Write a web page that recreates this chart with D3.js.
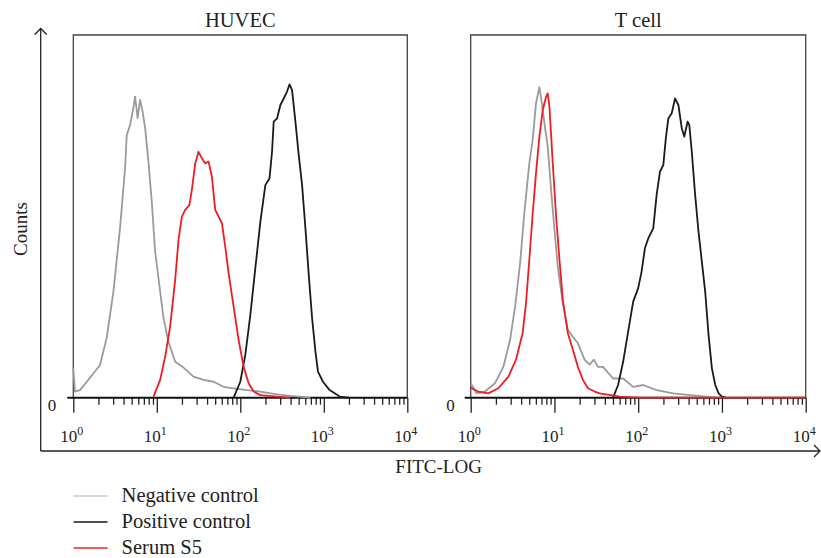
<!DOCTYPE html>
<html>
<head>
<meta charset="utf-8">
<script src="https://cdn.jsdelivr.net/npm/d3@7/dist/d3.min.js"></script>
<style>
  body { margin: 0; background: #fff; }
  svg text { font-family: "Liberation Serif", "DejaVu Serif", serif; fill: #222; }
</style>
</head>
<body>
<div id="chart"></div>
<script>
// [log10 FITC, counts] (counts in % of panel height)
const huvecNeg = [[0, 8.2], [0.02, 1.7], [0.08, 2.1], [0.2, 5.5], [0.32, 9.0], [0.4, 16.5], [0.48, 29.2],
  [0.56, 46.8], [0.62, 63.3], [0.64, 72.4], [0.68, 75.2], [0.72, 80.0], [0.74, 83.0], [0.77, 77.1],
  [0.8, 82.1], [0.83, 78.9], [0.86, 74.4], [0.9, 65.1], [0.94, 54.0], [0.98, 40.3], [1.02, 33.0],
  [1.08, 22.0], [1.14, 15.4], [1.22, 9.9], [1.32, 8.3], [1.44, 5.8], [1.56, 4.9], [1.68, 4.4],
  [1.8, 3.0], [1.92, 2.6], [2.08, 2.1], [2.24, 1.7], [2.42, 1.0], [2.6, 0.5], [2.84, 0]];
const huvecPos = [[1.92, 0], [2.0, 4.4], [2.06, 11.8], [2.12, 22.8], [2.18, 35.7], [2.24, 48.5], [2.3, 58.6],
  [2.35, 60.5], [2.38, 67.8], [2.4, 76.1], [2.44, 77.0], [2.48, 80.7], [2.52, 82.5], [2.56, 84.4],
  [2.59, 86.4], [2.62, 84.8], [2.66, 76.1], [2.7, 66.9], [2.74, 58.6], [2.78, 46.7], [2.82, 33.8],
  [2.86, 21.9], [2.9, 12.7], [2.93, 7.2], [2.99, 4.4], [3.07, 2.1], [3.19, 0.3], [3.3, 0]];
const huvecSerum = [[0.96, 0.3], [1.04, 4.9], [1.1, 11.3], [1.16, 19.6], [1.22, 32.5], [1.26, 43.5],
  [1.3, 49.9], [1.34, 51.8], [1.39, 53.1], [1.42, 57.3], [1.46, 64.6], [1.5, 67.8], [1.54, 66.0],
  [1.58, 64.6], [1.62, 65.1], [1.66, 60.9], [1.7, 51.8], [1.74, 49.9], [1.78, 48.1], [1.82, 41.6],
  [1.86, 34.3], [1.92, 25.1], [1.98, 15.9], [2.04, 8.5], [2.1, 4.0], [2.16, 1.7], [2.24, 0.7],
  [2.48, 0.2], [2.6, 0]];

const tcellNeg = [[0, 4.0], [0.07, 1.2], [0.17, 1.7], [0.29, 4.0], [0.39, 8.5], [0.47, 15.9], [0.53, 25.1],
  [0.59, 37.1], [0.64, 50.8], [0.7, 64.6], [0.74, 71.1], [0.78, 81.2], [0.82, 85.6], [0.85, 81.2],
  [0.88, 75.7], [0.92, 69.2], [0.96, 57.3], [1.0, 46.3], [1.04, 36.1], [1.1, 26.0], [1.16, 18.7],
  [1.22, 16.8], [1.28, 15.0], [1.36, 10.5], [1.42, 9.1], [1.47, 10.5], [1.52, 8.5], [1.58, 8.5],
  [1.7, 5.3], [1.82, 5.3], [1.94, 3.0], [2.06, 3.5], [2.22, 2.1], [2.42, 1.2], [2.62, 0.7],
  [2.82, 0.3], [2.92, 0]];
const tcellPos = [[1.7, 0], [1.76, 3.5], [1.82, 9.9], [1.88, 18.2], [1.94, 26.5], [2.0, 30.2], [2.04, 34.7],
  [2.08, 41.2], [2.12, 43.9], [2.18, 46.7], [2.22, 55.9], [2.26, 62.3], [2.3, 64.2], [2.33, 71.5],
  [2.36, 77.0], [2.4, 78.4], [2.44, 82.5], [2.48, 80.7], [2.52, 74.3], [2.55, 72.0], [2.59, 76.1],
  [2.61, 75.2], [2.64, 67.8], [2.68, 55.9], [2.72, 45.8], [2.76, 37.5], [2.8, 29.2], [2.84, 17.3],
  [2.88, 8.1], [2.92, 3.5], [2.96, 1.2], [3.0, 0.3], [3.04, 0]];
const tcellSerum = [[0, 2.7], [0.09, 1.7], [0.21, 1.2], [0.33, 2.6], [0.45, 5.8], [0.54, 10.4], [0.62, 17.8],
  [0.66, 26.0], [0.7, 38.0], [0.74, 50.8], [0.78, 61.9], [0.82, 72.0], [0.86, 79.3], [0.9, 83.0],
  [0.92, 83.9], [0.94, 80.2], [0.98, 64.6], [1.02, 49.9], [1.06, 38.0], [1.1, 26.9], [1.16, 17.8],
  [1.22, 13.2], [1.28, 8.5], [1.34, 4.9], [1.4, 2.6], [1.48, 1.7], [1.54, 1.2], [1.78, 0.3],
  [2.02, 0], [4, 0]];

const panelTitles = ["HUVEC", "T cell"];
const decades = [0, 1, 2, 3, 4];
const legendLabels = ["Negative control", "Positive control", "Serum S5"];
const legendColors = ["#c8c8c8", "#1a1a1a", "#e8262b"];
const seriesColors = ["#9a9a9a", "#1a1a1a", "#ee1c25"];

const W = 821, H = 558;
const y0 = 397.7, yTop = 35;

const svg = d3.select("#chart").append("svg")
    .attr("width", W)
    .attr("height", H);

const y = d3.scaleLinear().domain([0, 100]).range([y0, yTop]);

const panels = [
  { title: panelTitles[0], left: 73.3, right: 407.3, zeroX: 52, series: [huvecNeg, huvecPos, huvecSerum] },
  { title: panelTitles[1], left: 470.7, right: 805.7, zeroX: 450.5, series: [tcellNeg, tcellPos, tcellSerum] }
];

panels.forEach(p => {
    const x = d3.scaleLog().domain([1, 1e4]).range([p.left, p.right]);
    const g = svg.append("g");

    // frame (top and sides)
    g.append("path")
        .attr("d", `M${p.left},${y0} V${yTop} H${p.right} V${y0}`)
        .attr("fill", "none")
        .attr("stroke", "#444")
        .attr("stroke-width", 1.3);

    // minor + major ticks
    const minor = [];
    for (let d = 0; d < 4; d++) for (let k = 2; k <= 9; k++) minor.push(k * Math.pow(10, d));
    const axis = g.append("g").attr("transform", `translate(0,${y0})`);
    axis.call(d3.axisBottom(x).tickValues(minor).tickSize(7).tickFormat(""));
    axis.append("g").call(d3.axisBottom(x).tickValues(decades.map(d => Math.pow(10, d))).tickSize(15).tickFormat(""));
    axis.selectAll(".domain").remove();
    axis.selectAll("line").attr("stroke", "#222").attr("stroke-width", 1.3);

    // zero baseline
    g.append("line")
        .attr("x1", p.left - 6).attr("x2", p.right)
        .attr("y1", y0).attr("y2", y0)
        .attr("stroke", "#111").attr("stroke-width", 2);

    g.append("text")
        .attr("x", p.zeroX).attr("y", 410.7)
        .attr("text-anchor", "middle")
        .attr("font-size", 17)
        .text("0");

    // decade labels 10^n
    decades.forEach(d => {
        const t = g.append("text")
            .attr("x", x(Math.pow(10, d)) - 1.5)
            .attr("y", 442)
            .attr("text-anchor", "middle")
            .attr("font-size", 17);
        t.append("tspan").text("10");
        t.append("tspan").attr("font-size", 12).attr("dy", -7).text(d);
    });

    g.append("text")
        .attr("x", (p.left + p.right) / 2)
        .attr("y", 27.3)
        .attr("text-anchor", "middle")
        .attr("font-size", 20.5)
        .text(p.title);

    const line = d3.line()
        .x(d => x(Math.pow(10, d[0])))
        .y(d => y(d[1]));

    [0, 1, 2].forEach(i => {
        g.append("path")
            .datum(p.series[i])
            .attr("d", line)
            .attr("fill", "none")
            .attr("stroke", seriesColors[i])
            .attr("stroke-width", 1.8)
            .attr("stroke-linejoin", "round");
    });
});

// outer axes with open arrows
const ax = svg.append("g").attr("stroke", "#222").attr("fill", "none").attr("stroke-width", 1.3);
ax.append("path").attr("d", "M40.7,451 V28.5");
ax.append("path").attr("d", "M34.7,34.5 L40.7,28.5 L46.7,34.5");
ax.append("path").attr("d", "M40.7,451 H820");
ax.append("path").attr("d", "M814,445 L820,451 L814,457");

svg.append("text")
    .attr("transform", "translate(27,229) rotate(-90)")
    .attr("text-anchor", "middle")
    .attr("font-size", 19)
    .text("Counts");

svg.append("text")
    .attr("x", 438.6).attr("y", 472.7)
    .attr("text-anchor", "middle")
    .attr("font-size", 19)
    .text("FITC-LOG");

// legend
const leg = svg.append("g");
legendLabels.forEach((lab, i) => {
    const ly = 496 + i * 26;
    leg.append("line")
        .attr("x1", 73.6).attr("x2", 107.6)
        .attr("y1", ly).attr("y2", ly)
        .attr("stroke", legendColors[i]).attr("stroke-width", 1.5);
    leg.append("text")
        .attr("x", 121.6).attr("y", ly + 5.5)
        .attr("font-size", 20.5)
        .text(lab);
});
</script>
</body>
</html>
